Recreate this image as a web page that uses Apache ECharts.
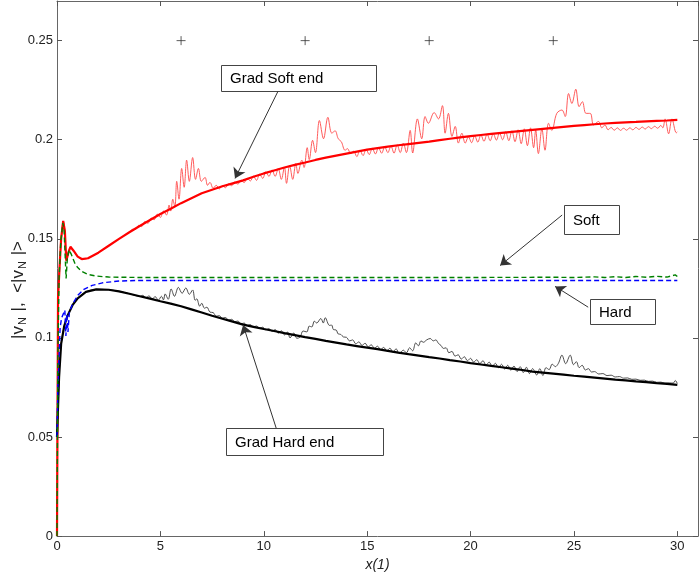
<!DOCTYPE html>
<html><head><meta charset="utf-8">
<script src="https://cdn.jsdelivr.net/npm/echarts@6/dist/echarts.min.js"></script>
<style>html,body{margin:0;padding:0;background:#fff}#c{width:700px;height:577px}</style>
</head><body><div id="c"></div>
<script>
// ---------- axis ranges / ticks ----------
const xMin = 0, xMax = 31, xStep = 5;
const yMin = 0, yMax = 0.27, yStep = 0.05;
const xTickLabels = ['0','5','10','15','20','25','30'];
const yTickLabels = ['0','0.05','0.1','0.15','0.2','0.25'];

// ---------- series data [x, y] ----------
const gradSoftMean = [[0,0],[0.05,0.12],[0.12,0.135],[0.2,0.15],[0.3,0.159],[0.38,0.154],[0.45,0.139],[0.55,0.143],[0.65,0.146],[0.8,0.144],[1.0,0.141],[1.2,0.1398],[1.5,0.1402],[2,0.143],[2.5,0.1465],[3,0.150],[3.5,0.1533],[4,0.1565],[4.5,0.1595],[5,0.1625],[5.5,0.1652],[6,0.168],[6.5,0.1705],[7,0.173],[7.5,0.1748],[8,0.1765],[8.5,0.178],[9,0.1795],[9.5,0.1813],[10,0.183],[10.5,0.1845],[11,0.186],[11.5,0.1873],[12,0.1885],[12.5,0.1898],[13,0.191],[13.5,0.192],[14,0.193],[14.5,0.194],[15,0.195],[15.5,0.1958],[16,0.1965],[16.5,0.1972],[17,0.1978],[17.5,0.1984],[18,0.199],[18.5,0.1998],[19,0.2005],[19.5,0.2012],[20,0.2018],[20.5,0.2024],[21,0.203],[21.5,0.2035],[22,0.204],[22.5,0.2045],[23,0.205],[23.5,0.2055],[24,0.206],[24.5,0.2065],[25,0.207],[25.5,0.2074],[26,0.2078],[26.5,0.2082],[27,0.2085],[27.5,0.2088],[28,0.209],[28.5,0.2093],[29,0.2095],[29.5,0.2097],[30,0.210]];

const gradSoftRaw = [[0,0],[0.05,0.12],[0.12,0.135],[0.2,0.15],[0.3,0.159],[0.38,0.154],[0.45,0.139],[0.55,0.143],[0.65,0.146],[0.8,0.144],[1.0,0.141],[1.2,0.1398],[1.5,0.1402],[2,0.143],[2.5,0.1465],[3,0.150],[3.5,0.1533],
[3.65,0.1548],[3.8,0.1548],[3.95,0.1568],[4.1,0.1562],[4.25,0.1588],[4.4,0.1578],[4.55,0.1605],[4.7,0.1596],[4.85,0.1625],[5.0,0.1608],[5.15,0.1640],[5.3,0.1620],
[5.42,0.1670],[5.5,0.1640],[5.6,0.1700],[5.7,0.1660],[5.79,0.1790],[5.9,0.1700],[6.03,0.1855],[6.15,0.1760],[6.27,0.1897],[6.4,0.1790],[6.56,0.1910],[6.7,0.1800],[6.84,0.1855],[6.98,0.1790],[7.16,0.1810],[7.28,0.1770],[7.40,0.1785],[7.55,0.1755],[7.7,0.1770],[7.85,0.1752],[8.0,0.1768],[8.15,0.1758],
[8.3,0.1778],[8.45,0.1768],[8.6,0.1787],[8.75,0.1776],[8.9,0.1795],[9.05,0.1784],[9.2,0.1805],[9.35,0.1792],[9.5,0.1816],[9.65,0.1795],[9.8,0.1826],[9.95,0.1805],[10.1,0.1838],[10.25,0.1815],[10.4,0.1848],[10.55,0.1815],[10.7,0.1855],[10.85,0.1800],[11.0,0.1862],[11.1,0.1780],[11.25,0.1870],[11.4,0.1800],
[11.55,0.1880],[11.65,0.1830],[11.84,0.1897],[11.95,0.1860],[12.1,0.1960],[12.2,0.1900],[12.36,0.1997],[12.5,0.1935],[12.69,0.2097],[12.89,0.2005],[13.1,0.2113],[13.29,0.2033],[13.45,0.2045],[13.6,0.2005],[13.75,0.1990],[13.93,0.1947],[14.05,0.1955],[14.2,0.1930],
[14.35,0.1942],[14.5,0.1915],[14.65,0.1948],[14.8,0.1920],[14.95,0.1952],[15.1,0.1925],[15.25,0.1957],[15.4,0.1928],[15.55,0.1960],[15.7,0.1932],[15.85,0.1964],[16.0,0.1935],[16.15,0.1968],[16.3,0.1932],[16.45,0.1975],[16.6,0.1935],[16.75,0.1983],[16.9,0.1935],
[17.08,0.2047],[17.2,0.1933],[17.43,0.2105],[17.64,0.2005],[17.8,0.2117],[17.96,0.2083],[18.24,0.2137],[18.45,0.2105],[18.64,0.2172],[18.77,0.2033],[18.93,0.2133],[19.1,0.2017],[19.26,0.2067],[19.41,0.1983],[19.58,0.2033],[19.74,0.1983],
[19.9,0.2015],[20.05,0.1985],[20.2,0.2020],[20.35,0.1988],[20.5,0.2024],[20.65,0.1992],[20.8,0.2028],[20.95,0.1995],[21.1,0.2031],[21.25,0.1998],[21.4,0.2034],[21.55,0.2000],[21.7,0.2040],[21.85,0.1995],[22.0,0.2045],[22.15,0.1990],[22.3,0.2050],[22.45,0.1980],[22.6,0.2055],[22.75,0.1970],[22.9,0.2060],[23.05,0.1960],[23.15,0.2050],[23.28,0.1930],[23.45,0.2055],[23.6,0.1947],
[23.77,0.2083],[23.93,0.2047],[24.17,0.2133],[24.42,0.2150],[24.58,0.2117],[24.74,0.2233],[24.9,0.2183],[25.09,0.2255],[25.25,0.2167],[25.41,0.2192],[25.58,0.2133],[25.79,0.2133],[25.95,0.2075],[26.19,0.2092],[26.35,0.2060],[26.5,0.2075],
[26.65,0.2050],[26.8,0.2062],[26.95,0.2048],[27.1,0.2060],[27.25,0.2047],[27.4,0.2058],[27.55,0.2048],[27.7,0.2060],[27.85,0.2050],[28.0,0.2062],[28.15,0.2052],[28.3,0.2064],[28.45,0.2054],[28.6,0.2066],[28.75,0.2056],[28.9,0.2068],[29.05,0.2058],[29.2,0.2072],[29.3,0.2060],
[29.41,0.2105],[29.58,0.2030],[29.74,0.2105],[29.95,0.2035],[30.0,0.2040]];

const softMean = [[0,0],[0.04,0.09],[0.1,0.13],[0.18,0.148],[0.28,0.158],[0.34,0.155],[0.4,0.140],[0.44,0.130],[0.5,0.140],[0.58,0.1445],[0.7,0.142],[0.85,0.138],[1.0,0.1355],[1.2,0.1335],[1.5,0.132],[1.9,0.1312],[2.5,0.1307],[4,0.1305],[10,0.1305],[20,0.1305],[24,0.1306],[25,0.1305],[26,0.1308],[26.5,0.1305],[27,0.1309],[27.5,0.1305],[28,0.131],[28.5,0.1306],[29,0.1311],[29.5,0.1307],[29.9,0.1318],[30,0.131]];

const hardMean = [[0,0.05],[0.04,0.075],[0.08,0.085],[0.15,0.105],[0.22,0.11],[0.3,0.1095],[0.38,0.114],[0.43,0.101],[0.48,0.112],[0.53,0.103],[0.6,0.113],[0.75,0.117],[1.0,0.1215],[1.3,0.1245],[1.7,0.1265],[2.2,0.1278],[3,0.1287],[4,0.129],[30,0.129]];

const gradHardMean = [[0,0.05],[0.1,0.08],[0.2,0.097],[0.35,0.106],[0.5,0.111],[0.75,0.1165],[1,0.12],[1.4,0.1232],[1.9,0.1245],[2.5,0.1243],[3,0.1235],[3.5,0.1223],[4,0.121],[4.5,0.1198],[5,0.1185],[5.5,0.1173],[6,0.116],[6.5,0.1144],[7,0.1128],[7.5,0.1112],[8,0.1097],[8.5,0.1082],[9,0.1067],[9.5,0.1056],[10,0.1045],[10.5,0.1035],[11,0.1024],[11.5,0.1014],[12,0.1004],[12.5,0.0995],[13,0.0985],[13.5,0.0976],[14,0.0967],[14.5,0.0959],[15,0.0951],[15.5,0.0943],[16,0.0935],[16.5,0.0926],[17,0.0918],[17.5,0.0911],[18,0.0903],[18.5,0.0896],[19,0.0888],[19.5,0.0881],[20,0.0873],[20.5,0.0866],[21,0.0859],[21.5,0.0852],[22,0.0845],[22.5,0.0838],[23,0.083],[23.5,0.0825],[24,0.082],[24.5,0.0815],[25,0.0809],[25.5,0.0805],[26,0.080],[26.5,0.0795],[27,0.079],[27.5,0.0786],[28,0.0781],[28.5,0.0777],[29,0.0772],[29.5,0.0768],[30,0.0763]];

const gradHardRaw = [[0,0.05],[0.1,0.08],[0.2,0.097],[0.35,0.106],[0.5,0.111],[0.75,0.1165],[1,0.12],[1.4,0.1232],[1.9,0.1245],[2.5,0.1243],[3,0.1235],[3.5,0.1223],[4,0.121],
[4.15,0.1215],[4.3,0.1203],[4.45,0.1212],[4.6,0.1197],[4.75,0.1208],[4.9,0.1190],[5.05,0.1210],
[5.15,0.1192],[5.23,0.1222],[5.38,0.1195],[5.52,0.1247],[5.68,0.1210],[5.87,0.1255],[6.05,0.1225],[6.23,0.1252],[6.4,0.1220],[6.56,0.1242],[6.68,0.1190],[6.76,0.1197],[6.9,0.1160],[7.0,0.1175],[7.13,0.1150],[7.25,0.1155],[7.4,0.1130],[7.55,0.1128],[7.7,0.1110],
[7.85,0.1112],[8.0,0.1100],[8.15,0.1103],[8.3,0.1090],[8.45,0.1094],[8.6,0.1082],[8.75,0.1085],[8.9,0.1071],[9.05,0.1075],[9.2,0.1063],[9.35,0.1067],[9.5,0.1056],[9.65,0.1060],[9.8,0.1049],[9.95,0.1054],[10.1,0.1041],[10.25,0.1047],[10.4,0.1033],[10.55,0.1042],[10.7,0.1024],[10.85,0.1036],[11.0,0.1015],[11.15,0.1030],[11.27,0.1000],[11.45,0.1025],[11.6,0.0998],[11.76,0.1005],
[11.9,0.1035],[12.08,0.1030],[12.2,0.1060],[12.32,0.1055],[12.45,0.1085],[12.56,0.1075],[12.76,0.1098],[12.88,0.1075],[12.97,0.1102],[13.18,0.1063],[13.28,0.1065],[13.37,0.1042],[13.5,0.1040],[13.6,0.1020],[13.72,0.1018],[13.85,0.1005],[14.0,0.1003],[14.15,0.0985],
[14.3,0.0990],[14.45,0.0970],[14.6,0.0980],[14.75,0.0962],[14.9,0.0973],[15.05,0.0955],[15.2,0.0965],[15.35,0.0948],[15.5,0.0958],[15.65,0.0941],[15.8,0.0952],[15.95,0.0935],[16.1,0.0948],[16.25,0.0928],[16.4,0.0945],[16.55,0.0922],
[16.75,0.0938],[16.9,0.0925],[17.05,0.0950],[17.2,0.0935],[17.35,0.0975],[17.48,0.0960],[17.6,0.0985],[17.72,0.0978],[17.88,0.0990],[18.05,0.0997],[18.2,0.0985],[18.32,0.0990],[18.45,0.0972],[18.57,0.0962],[18.69,0.0947],[18.82,0.0950],[18.95,0.0925],[19.1,0.0932],[19.25,0.0908],
[19.4,0.0915],[19.55,0.0893],[19.7,0.0905],[19.85,0.0885],[20.0,0.0897],[20.15,0.0878],[20.3,0.0890],[20.45,0.0870],[20.6,0.0885],[20.75,0.0863],[20.9,0.0878],[21.05,0.0856],[21.2,0.0872],[21.35,0.0850],[21.5,0.0867],[21.65,0.0843],[21.8,0.0862],[21.95,0.0837],[22.1,0.0858],[22.25,0.0830],[22.4,0.0855],[22.55,0.0825],[22.7,0.0852],[22.85,0.0820],[23.0,0.0845],[23.2,0.0813],[23.35,0.0845],[23.5,0.0810],
[23.65,0.0850],[23.8,0.0840],[23.95,0.0868],[24.1,0.0855],[24.25,0.0872],[24.42,0.0913],[24.6,0.0870],[24.82,0.0913],[24.98,0.0865],[25.12,0.0880],[25.25,0.0850],[25.4,0.0862],[25.55,0.0838],[25.7,0.0845],[25.85,0.0828],[26.0,0.0830],[26.2,0.0818],
[26.4,0.0820],[26.6,0.0810],[26.8,0.0812],[27.0,0.0803],[27.2,0.0805],[27.4,0.0797],[27.6,0.0798],[27.8,0.0791],[28.0,0.0792],[28.2,0.0786],[28.4,0.0787],[28.6,0.0781],[28.8,0.0782],[29.0,0.0776],[29.2,0.0777],[29.4,0.0772],[29.6,0.0773],[29.8,0.0772],[29.9,0.0785],[30.0,0.0770]];

const crossX = [6, 12, 18, 24];
const crossY = [0.25, 0.25, 0.25, 0.25];

// ---------- annotations (data coordinates) ----------
const noteTexts = ['Grad Soft end', 'Soft', 'Hard', 'Grad Hard end'];
const noteBoxes = [[7.93,0.2375,15.43,0.2245],[24.53,0.167,27.19,0.1525],[25.79,0.1195,28.93,0.107],[8.18,0.0545,15.77,0.041]];
const noteArrowFrom = [[10.69,0.2245],[24.43,0.162],[25.69,0.1155],[10.6,0.0545]];
const noteArrowTo = [[8.61,0.1805],[21.43,0.1365],[24.09,0.126],[9.0,0.1065]];

const FONT = 'Liberation Sans, Arial, sans-serif';
const chart = echarts.init(document.getElementById('c'), null, {renderer:'canvas'});

function baseAxis(extra){
  return Object.assign({
    type:'value',
    axisLine:{show:true, onZero:false, lineStyle:{color:'#666', width:1}},
    axisTick:{show:true, inside:true, length:5, lineStyle:{color:'#555'}},
    splitLine:{show:false}
  }, extra);
}

const lineSeries = (name, data, color, width, type, z, smooth) => ({
  name, type:'line', data, showSymbol:false, symbol:'none', silent:true, z,
  xAxisIndex:0, yAxisIndex:0, smooth: smooth || false,
  lineStyle:{color, width, type}, emphasis:{disabled:true}
});

chart.setOption({
  animation:false,
  textStyle:{fontFamily:FONT},
  grid:{left:57, right:2, top:1, bottom:36, containLabel:false},
  xAxis:[
    baseAxis({min:xMin, max:xMax, interval:xStep, position:'bottom',
      name:'x(1)', nameLocation:'middle', nameGap:17,
      nameTextStyle:{fontSize:14, fontStyle:'italic', color:'#222', fontFamily:FONT, verticalAlign:'top'},
      axisLabel:{show:true, margin:4, fontSize:13, color:'#222', showMaxLabel:false,
        formatter:(v)=>{const i=Math.round(v/xStep); return (Math.abs(v-i*xStep)<1e-9 && xTickLabels[i]!==undefined)?xTickLabels[i]:'';}}}),
    baseAxis({min:xMin, max:xMax, interval:xStep, position:'top', axisLabel:{show:false}})
  ],
  yAxis:[
    baseAxis({min:yMin, max:yMax, interval:yStep, position:'left',
      axisLabel:{show:true, margin:4, fontSize:13, color:'#222', showMaxLabel:false,
        formatter:(v)=>{const i=Math.round(v/yStep); return (Math.abs(v-i*yStep)<1e-9 && yTickLabels[i]!==undefined)?yTickLabels[i]:'';}}}),
    baseAxis({min:yMin, max:yMax, interval:yStep, position:'right', axisLabel:{show:false}})
  ],
  series:[
    lineSeries('Grad Soft raw', gradSoftRaw, '#ff4a4a', 0.9, 'solid', 2, 0.35),
    lineSeries('Grad Hard raw', gradHardRaw, '#3a3a3a', 0.9, 'solid', 2, 0.35),
    lineSeries('Grad Soft end', gradSoftMean, '#ff0000', 2.2, 'solid', 3),
    lineSeries('Grad Hard end', gradHardMean, '#000000', 2.2, 'solid', 3),
    lineSeries('Hard', hardMean, '#0000ff', 1.4, [5,3], 4),
    lineSeries('Soft', softMean, '#008000', 1.4, [5,3], 5),
    {
      type:'scatter', name:'marks', silent:true, z:6,
      data: crossX.map((x,i)=>[x, crossY[i]]),
      symbol:'path://M0,5L10,5M5,0L5,10', symbolSize:9,
      itemStyle:{color:'none', borderColor:'#333', borderWidth:1},
      markLine:{
        silent:true, animation:false, symbol:['none','arrow'], symbolSize:10,
        label:{show:false}, emphasis:{disabled:true},
        lineStyle:{color:'#333', width:1, type:'solid'},
        data: noteArrowFrom.map((f,i)=>[{coord:f}, {coord:noteArrowTo[i]}])
      }
    }
  ]
});

// Annotation boxes, positioned from data coordinates
const graphics = noteBoxes.map((b,i)=>{
  const p1 = chart.convertToPixel({gridIndex:0}, [b[0], b[1]]);
  const p2 = chart.convertToPixel({gridIndex:0}, [b[2], b[3]]);
  return {
    type:'group', z:100,
    children:[
      {type:'rect', shape:{x:Math.round(p1[0])+0.5, y:Math.round(p1[1])+0.5, width:Math.round(p2[0]-p1[0]), height:Math.round(p2[1]-p1[1])},
       style:{fill:'#fff', stroke:'#444', lineWidth:1}},
      {type:'text', x:Math.round(p1[0])+9, y:(p1[1]+p2[1])/2+1,
       style:{text:noteTexts[i], font:'15px '+FONT, fill:'#000', verticalAlign:'middle', align:'left'}}
    ]
  };
});
graphics.push({
  type:'text', x:18, y:290, rotation:Math.PI/2, z:100,
  style:{
    text:'{n||v}{s|N}{n| |,  <|v}{s|N}{n| |>}',
    align:'center', verticalAlign:'middle',
    rich:{
      n:{fontSize:17, fontFamily:FONT, fill:'#222', lineHeight:20, verticalAlign:'middle'},
      s:{fontSize:11, fontFamily:FONT, fill:'#222', lineHeight:20, verticalAlign:'bottom', padding:[0,1,0,1]}
    }
  }
});
chart.setOption({graphic:graphics});
</script>
</body></html>
